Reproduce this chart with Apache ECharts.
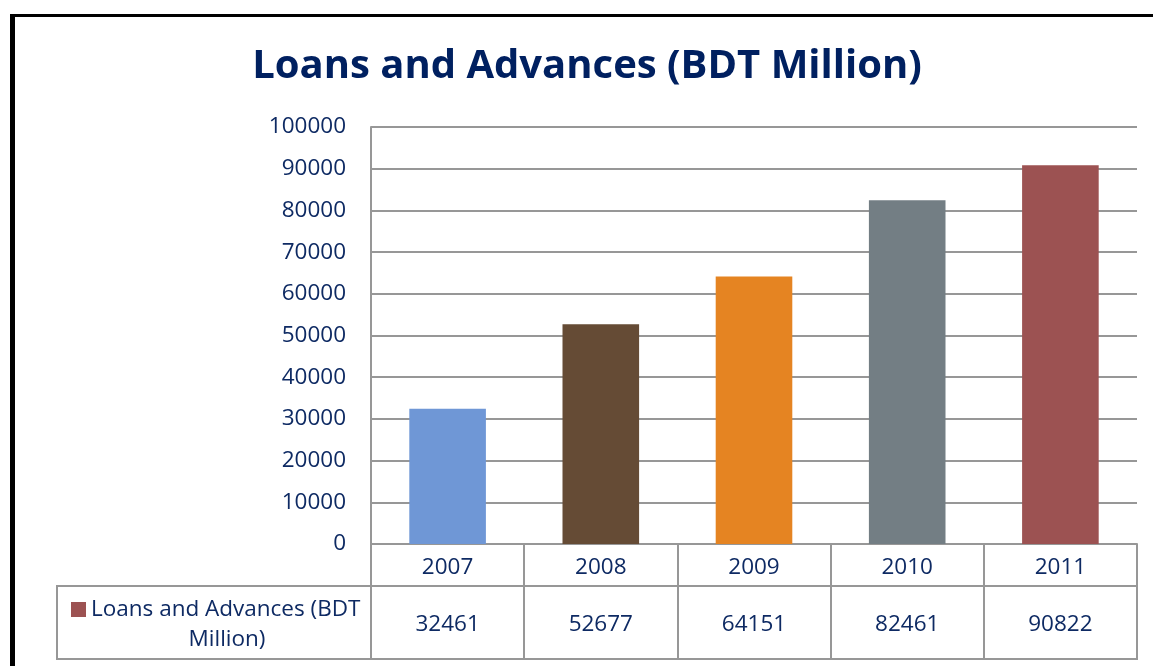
<!DOCTYPE html>
<html>
<head>
<meta charset="utf-8">
<script src="https://cdn.jsdelivr.net/npm/echarts@6/dist/echarts.min.js"></script>
<style>
  html, body { margin: 0; padding: 0; background: #fff; }
  #chart { width: 1153px; height: 666px; }
  #frame { position: absolute; left: 10px; top: 14px; right: 0; bottom: 0;
    border-top: 3px solid #000; border-left: 5px solid #000; pointer-events: none; }
</style>
</head>
<body>
<div id="chart"></div>
<div id="frame"></div>
<script>
const title = 'Loans and Advances (BDT Million)';
const seriesName = 'Loans and Advances (BDT Million)';
const years = ['2007', '2008', '2009', '2010', '2011'];
const loans = [32461, 52677, 64151, 82461, 90822];
const barColors = ['#6F97D6', '#654B35', '#E58422', '#737E84', '#9C5252'];

const navy = '#0E2A63';
const lineGray = '#979797';
const font = 'Open Sans';

const chart = echarts.init(document.getElementById('chart'));
chart.setOption({
  animation: false,
  textStyle: { fontFamily: font },
  title: {
    text: title,
    left: 582, top: 42, textAlign: 'center',
    textStyle: { fontSize: 40, fontWeight: 'bold', color: '#002060', fontFamily: font }
  },
  grid: { left: 371, right: 16, top: 127, bottom: 122 },
  legend: {
    left: 66, top: 593,
    itemWidth: 15, itemHeight: 15, itemGap: 0,
    icon: 'rect',
    data: [{ name: seriesName, itemStyle: { color: barColors[4] } }],
    formatter: () => '{a|Loans and Advances (BDT}\n{b|Million)}',
    textStyle: {
      color: navy,
      padding: [30, 0, 0, 0],
      rich: {
        a: { fontSize: 22.5, color: navy, lineHeight: 30, fontFamily: font },
        b: { fontSize: 22.5, color: navy, lineHeight: 30, width: 272, align: 'center', fontFamily: font }
      }
    }
  },
  xAxis: [
    {
      type: 'category', data: years, position: 'bottom',
      axisLine: { lineStyle: { color: lineGray, width: 2 } },
      axisTick: { show: true, interval: 0, length: 115, lineStyle: { color: lineGray, width: 2 } },
      axisLabel: { color: navy, fontSize: 22.5, margin: 12 },
      splitLine: { show: false }
    },
    {
      type: 'category', data: loans.map(String), position: 'bottom', offset: 42,
      axisLine: { show: false },
      axisTick: { show: false },
      axisLabel: { color: navy, fontSize: 22.5, margin: 27 }
    }
  ],
  yAxis: {
    type: 'value', min: 0, max: 100000, interval: 10000,
    axisLine: { show: true, lineStyle: { color: lineGray, width: 2 } },
    axisTick: { show: false },
    axisLabel: { color: navy, fontSize: 22.5, margin: 25, formatter: v => String(v) },
    splitLine: { lineStyle: { color: lineGray, width: 2 } }
  },
  graphic: [
    {
      type: 'rect', silent: true, z: 10,
      shape: { x: 57, y: 586, width: 1137 - 57, height: 659 - 586 },
      style: { fill: 'none', stroke: lineGray, lineWidth: 2 }
    }
  ],
  series: [{
    name: seriesName,
    type: 'bar',
    barWidth: '50%',
    data: loans.map((v, i) => ({ value: v, itemStyle: { color: barColors[i] } }))
  }]
});
</script>
</body>
</html>
